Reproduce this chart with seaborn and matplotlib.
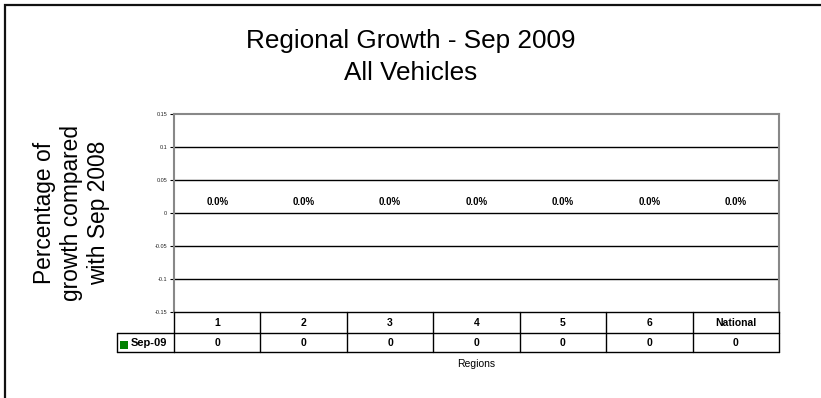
import matplotlib
matplotlib.use("Agg")
import matplotlib.pyplot as plt
import matplotlib.transforms as mtransforms
from matplotlib.patches import Rectangle
import seaborn as sns
import pandas as pd

regions = ["1", "2", "3", "4", "5", "6", "National"]
growth_sep09 = [0, 0, 0, 0, 0, 0, 0]
series_name = "Sep-09"
y_ticks = [-0.15, -0.1, -0.05, 0, 0.05, 0.1, 0.15]
y_tick_labels = ["-0.15", "-0.1", "-0.05", "0", "0.05", "0.1", "0.15"]

sns.set_theme(style="white")
plt.rcParams["font.family"] = ["Liberation Sans", "DejaVu Sans"]
plt.rcParams["text.color"] = "black"
plt.rcParams["axes.labelcolor"] = "black"

df = pd.DataFrame({"Region": regions, "Growth": growth_sep09})

fig = plt.figure(figsize=(8.21, 3.98), dpi=100)
fig.patch.set_facecolor("white")

# outer chart frame (runs off the right and bottom edges)
fig.patches.append(Rectangle((5 / 821, -0.1), 1.2, 1 - 4.5 / 398 + 0.1,
                             transform=fig.transFigure, fill=False,
                             edgecolor="#111111", linewidth=1.6))

ax = fig.add_axes([174 / 821, 1 - 312 / 398, 605 / 821, 198 / 398])
sns.barplot(data=df, x="Region", y="Growth", color="#008000", ax=ax,
            width=0.6)

ax.set_ylim(-0.15, 0.15)
ax.set_xlim(-0.5, len(regions) - 0.5)
ax.set_yticks(y_ticks)
ax.set_yticklabels(y_tick_labels, fontsize=4)
ax.tick_params(axis="y", length=3, width=0.8, color="black", pad=2,
               left=True, labelcolor="#222222")
ax.set_xticks([])
ax.set_xlabel("")
ax.set_ylabel("")
for y in y_ticks[1:-1]:
    ax.axhline(y, color="black", linewidth=1.0, zorder=1)
for side in ["left", "top", "right"]:
    ax.spines[side].set_color("#888888")
    ax.spines[side].set_linewidth(1.5)
ax.spines["bottom"].set_color("black")
ax.spines["bottom"].set_linewidth(1.0)

# value labels above each bar
for container in ax.containers:
    ax.bar_label(container, labels=[f"{v * 100:.1f}%" for v in growth_sep09],
                 padding=4.5, fontsize=7, fontweight="bold", color="black")

# data table beneath the plot
trans = mtransforms.blended_transform_factory(ax.transData, ax.transAxes)
ax_h_px = 198
col_px = 605 / len(regions)
row_h = 21 / ax_h_px
row2_h = 19 / ax_h_px
y_top = 0
y_mid = -row_h
y_bot = -row_h - row2_h
lw = 1.0
n = len(regions)
ax.plot([-0.5, n - 0.5], [y_mid, y_mid], transform=trans, color="black",
        lw=lw, clip_on=False)
ax.plot([-0.5, n - 0.5], [y_bot, y_bot], transform=trans, color="black",
        lw=lw, clip_on=False)
for i in range(n + 1):
    ax.plot([i - 0.5, i - 0.5], [y_top, y_bot], transform=trans,
            color="black", lw=lw, clip_on=False)
for i, (reg, val) in enumerate(zip(regions, growth_sep09)):
    ax.text(i, (y_top + y_mid) / 2, reg, transform=trans, ha="center",
            va="center", fontsize=7.5, fontweight="bold")
    ax.text(i, (y_mid + y_bot) / 2, f"{val}", transform=trans, ha="center",
            va="center", fontsize=7.5, fontweight="bold")

# legend key cell
key_left = -0.5 - 57 / col_px
ax.plot([key_left, -0.5], [y_mid, y_mid], transform=trans, color="black",
        lw=lw, clip_on=False)
ax.plot([key_left, -0.5], [y_bot, y_bot], transform=trans, color="black",
        lw=lw, clip_on=False)
ax.plot([key_left, key_left], [y_mid, y_bot], transform=trans,
        color="black", lw=lw, clip_on=False)
ax.add_patch(Rectangle((key_left + 3 / col_px, y_mid - 8 / ax_h_px),
                       8 / col_px, -7.5 / ax_h_px, transform=trans,
                       facecolor="#008000", edgecolor="none", clip_on=False))
ax.text(key_left + 13.5 / col_px, (y_mid + y_bot) / 2, series_name,
        transform=trans, ha="left", va="center", fontsize=8,
        fontweight="bold")

ax.text(0.5, y_bot - 0.06, "Regions", transform=ax.transAxes,
        ha="center", va="center", fontsize=7.5)

fig.text(0.5, 1 - 41 / 398, "Regional Growth - Sep 2009", ha="center",
         va="center", fontsize=18.8)
fig.text(0.5, 1 - 73 / 398, "All Vehicles", ha="center", va="center",
         fontsize=18.8)

fig.text(71.5 / 821, 1 - 213 / 398,
         "Percentage of\ngrowth compared\nwith Sep 2008", rotation=90,
         ha="center", va="center", fontsize=16.4, linespacing=1.22)

fig.savefig("out.png", dpi=100, facecolor="white")
